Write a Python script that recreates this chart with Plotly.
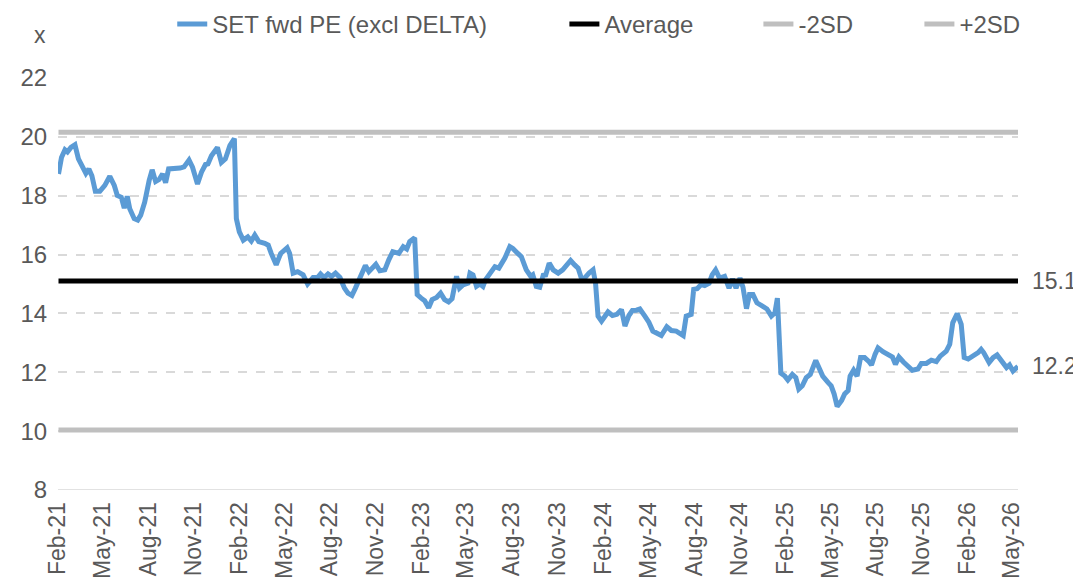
import plotly.graph_objects as go

# ---- data ----
dates = [
    "2021-02-02", "2021-02-08", "2021-02-15", "2021-02-20", "2021-02-27", "2021-03-07", "2021-03-14", "2021-03-21",
    "2021-03-29", "2021-04-04", "2021-04-10", "2021-04-17", "2021-04-26", "2021-05-06", "2021-05-16", "2021-05-25",
    "2021-05-31", "2021-06-08", "2021-06-14", "2021-06-20", "2021-06-25", "2021-07-04", "2021-07-11", "2021-07-17",
    "2021-07-25", "2021-08-03", "2021-08-09", "2021-08-16", "2021-08-23", "2021-08-30", "2021-09-05", "2021-09-11",
    "2021-09-23", "2021-10-04", "2021-10-12", "2021-10-22", "2021-10-29", "2021-11-08", "2021-11-16", "2021-11-24",
    "2021-11-29", "2021-12-06", "2021-12-18", "2021-12-26", "2022-01-03", "2022-01-12", "2022-01-21", "2022-01-25",
    "2022-01-31", "2022-02-08", "2022-02-17", "2022-02-24", "2022-03-03", "2022-03-11", "2022-03-23", "2022-03-30",
    "2022-04-05", "2022-04-15", "2022-04-24", "2022-05-07", "2022-05-12", "2022-05-19", "2022-05-28", "2022-06-08",
    "2022-06-17", "2022-06-28", "2022-07-07", "2022-07-13", "2022-07-20", "2022-07-28", "2022-08-04", "2022-08-12",
    "2022-08-21", "2022-08-30", "2022-09-06", "2022-09-14", "2022-09-21", "2022-09-30", "2022-10-11", "2022-10-18",
    "2022-10-24", "2022-11-01", "2022-11-09", "2022-11-19", "2022-11-27", "2022-12-05", "2022-12-17", "2022-12-26",
    "2023-01-02", "2023-01-08", "2023-01-18", "2023-01-23", "2023-01-31", "2023-02-07", "2023-02-15", "2023-02-22",
    "2023-03-03", "2023-03-11", "2023-03-19", "2023-03-27", "2023-04-03", "2023-04-08", "2023-04-12", "2023-04-18",
    "2023-04-25", "2023-05-05", "2023-05-09", "2023-05-15", "2023-05-22", "2023-05-29", "2023-06-04", "2023-06-09",
    "2023-06-18", "2023-06-28", "2023-07-06", "2023-07-18", "2023-07-28", "2023-08-03", "2023-08-13", "2023-08-20",
    "2023-08-30", "2023-09-08", "2023-09-12", "2023-09-19", "2023-09-26", "2023-10-03", "2023-10-08", "2023-10-15",
    "2023-10-23", "2023-11-02", "2023-11-11", "2023-11-19", "2023-11-27", "2023-12-05", "2023-12-12", "2023-12-19",
    "2023-12-25", "2024-01-03", "2024-01-11", "2024-01-16", "2024-01-21", "2024-01-28", "2024-02-03", "2024-02-10",
    "2024-02-19", "2024-02-28", "2024-03-08", "2024-03-15", "2024-03-23", "2024-03-30", "2024-04-07", "2024-04-14",
    "2024-04-24", "2024-05-02", "2024-05-10", "2024-05-18", "2024-05-27", "2024-06-07", "2024-06-16", "2024-06-26",
    "2024-07-03", "2024-07-10", "2024-07-16", "2024-07-26", "2024-07-31", "2024-08-07", "2024-08-15", "2024-08-22",
    "2024-08-31", "2024-09-06", "2024-09-13", "2024-09-21", "2024-10-01", "2024-10-10", "2024-10-17", "2024-10-24",
    "2024-11-01", "2024-11-07", "2024-11-14", "2024-11-20", "2024-11-27", "2024-12-05", "2024-12-16", "2024-12-25",
    "2025-01-03", "2025-01-10", "2025-01-15", "2025-01-22", "2025-01-30", "2025-02-05", "2025-02-14", "2025-02-21",
    "2025-02-27", "2025-03-06", "2025-03-14", "2025-03-22", "2025-04-02", "2025-04-10", "2025-04-16", "2025-04-27",
    "2025-05-03", "2025-05-09", "2025-05-15", "2025-05-24", "2025-05-30", "2025-06-06", "2025-06-10", "2025-06-17",
    "2025-06-24", "2025-07-01", "2025-07-09", "2025-07-18", "2025-07-23", "2025-07-30", "2025-08-05", "2025-08-15",
    "2025-08-25", "2025-09-03", "2025-09-09", "2025-09-16", "2025-09-25", "2025-10-04", "2025-10-13", "2025-10-24",
    "2025-10-31", "2025-11-10", "2025-11-20", "2025-11-30", "2025-12-08", "2025-12-20", "2025-12-27", "2026-01-02",
    "2026-01-11", "2026-01-19", "2026-01-25", "2026-02-02", "2026-02-12", "2026-02-22", "2026-02-28", "2026-03-05",
    "2026-03-16", "2026-03-24", "2026-04-01", "2026-04-10", "2026-04-20", "2026-04-26", "2026-05-03", "2026-05-13",
]
set_fwd_pe = [
    18.74, 19.30, 19.56, 19.49, 19.64, 19.73, 19.25, 19.02,
    18.76, 18.91, 18.68, 18.15, 18.15, 18.35, 18.66, 18.35,
    18.01, 17.95, 17.58, 17.98, 17.56, 17.22, 17.17, 17.34,
    17.78, 18.52, 18.88, 18.48, 18.55, 18.74, 18.44, 18.91,
    18.91, 18.94, 18.98, 19.21, 18.97, 18.40, 18.80, 19.06,
    19.08, 19.36, 19.64, 19.13, 19.25, 19.70, 19.94, 17.22,
    16.77, 16.49, 16.60, 16.46, 16.66, 16.44, 16.38, 16.32,
    16.04, 15.65, 16.04, 16.23, 16.04, 15.37, 15.42, 15.31,
    15.00, 15.22, 15.22, 15.34, 15.22, 15.34, 15.26, 15.37,
    15.22, 14.86, 14.69, 14.61, 14.86, 15.20, 15.63, 15.42,
    15.54, 15.67, 15.45, 15.48, 15.82, 16.10, 16.04, 16.27,
    16.19, 16.44, 16.57, 14.64, 14.52, 14.43, 14.19, 14.47,
    14.54, 14.69, 14.47, 14.39, 14.50, 14.86, 15.26, 14.86,
    14.97, 15.03, 15.37, 15.31, 14.92, 15.00, 14.92, 15.14,
    15.37, 15.59, 15.54, 15.88, 16.27, 16.21, 16.04, 15.93,
    15.48, 15.26, 15.31, 14.92, 14.89, 15.30, 15.31, 15.71,
    15.48, 15.37, 15.48, 15.65, 15.80, 15.65, 15.54, 15.17,
    15.20, 15.37, 15.48, 15.03, 13.91, 13.74, 13.91, 14.05,
    13.93, 13.97, 14.13, 13.57, 13.93, 14.10, 14.11, 14.15,
    13.91, 13.70, 13.40, 13.34, 13.25, 13.55, 13.42, 13.40,
    13.34, 13.25, 13.91, 13.97, 14.82, 14.84, 14.98, 14.95,
    15.03, 15.31, 15.48, 15.20, 15.26, 14.86, 15.17, 14.86,
    15.20, 14.89, 14.16, 14.64, 14.64, 14.36, 14.25, 14.15,
    13.91, 14.02, 14.52, 11.97, 11.87, 11.74, 11.93, 11.82,
    11.43, 11.54, 11.82, 11.93, 12.40, 12.09, 11.87, 11.65,
    11.54, 11.26, 10.84, 11.04, 11.26, 11.38, 11.87, 12.07,
    11.87, 12.50, 12.50, 12.36, 12.25, 12.61, 12.83, 12.70,
    12.59, 12.52, 12.27, 12.52, 12.35, 12.18, 12.07, 12.11,
    12.30, 12.30, 12.41, 12.36, 12.55, 12.72, 12.95, 13.68,
    13.99, 13.63, 12.50, 12.45, 12.55, 12.67, 12.78, 12.67,
    12.33, 12.50, 12.59, 12.41, 12.16, 12.25, 12.04, 12.20,
]
average = 15.1
minus_2sd = 10.04
plus_2sd = 20.16
avg_label = "15.1"
last_label = "12.2"

y_ticks = [8, 10, 12, 14, 16, 18, 20, 22]

# ---- styling ----
FONT = "Liberation Sans, Arial, sans-serif"
TXT = "#595959"
LW = 5

first, last = dates[0], dates[-1]

fig = go.Figure()
fig.add_trace(go.Scatter(x=dates, y=set_fwd_pe, mode="lines", name="SET fwd PE (excl DELTA)",
                         line=dict(color="#5B9BD5", width=LW), legend="legend"))
fig.add_trace(go.Scatter(x=[first, last], y=[average, average], mode="lines", name="Average",
                         line=dict(color="#000000", width=LW), legend="legend2"))
fig.add_trace(go.Scatter(x=[first, last], y=[minus_2sd, minus_2sd], mode="lines", name="-2SD",
                         line=dict(color="#BFBFBF", width=LW), legend="legend3"))
fig.add_trace(go.Scatter(x=[first, last], y=[plus_2sd, plus_2sd], mode="lines", name="+2SD",
                         line=dict(color="#BFBFBF", width=LW), legend="legend4"))

def leg(xpos):
    return dict(orientation="h", x=xpos, xanchor="left", y=1.13, yanchor="middle",
                font=dict(size=24, color=TXT), bgcolor="rgba(0,0,0,0)")

# The page body adds an 8px offset, so margins are shifted to compensate.
fig.update_layout(
    width=1081, height=584,
    margin=dict(l=50, r=71, t=70, b=102, autoexpand=False),
    paper_bgcolor="white", plot_bgcolor="white",
    font=dict(family=FONT, size=23, color=TXT),
    showlegend=True,
    legend=leg(0.119), legend2=leg(0.5275), legend3=leg(0.7296), legend4=leg(0.8973),
    xaxis=dict(type="date", range=["2021-02-01", last], tickmode="linear",
               tick0="2021-02-01", dtick="M3", tickformat="%b-%y", tickangle=-90,
               showgrid=False, zeroline=False, showline=False,
               ticks="outside", ticklen=2, tickcolor="rgba(0,0,0,0)",
               tickfont=dict(size=23, color=TXT), automargin=False),
    yaxis=dict(range=[8, 22], tickmode="array", tickvals=y_ticks,
               showgrid=True, gridcolor="#D9D9D9", gridwidth=1.5, griddash="dash",
               zeroline=False, showline=False,
               ticks="outside", ticklen=5, tickcolor="rgba(0,0,0,0)",
               tickfont=dict(size=24, color=TXT), automargin=False),
    annotations=[
        dict(text="x", xref="paper", yref="paper", x=-0.019, y=1.104, showarrow=False,
             xanchor="center", yanchor="middle", font=dict(size=23, color=TXT)),
        dict(text=avg_label, xref="paper", yref="y", x=1.0, y=average, xshift=12, showarrow=False,
             xanchor="left", yanchor="middle", font=dict(size=23, color=TXT)),
        dict(text=last_label, xref="paper", yref="y", x=1.0, y=set_fwd_pe[-1], xshift=12, showarrow=False,
             xanchor="left", yanchor="middle", font=dict(size=23, color=TXT)),
    ],
)
# solid baseline at 8
fig.add_shape(type="line", xref="paper", yref="y", x0=0, x1=1, y0=8, y1=8,
              line=dict(color="#D9D9D9", width=1.5), layer="below")

fig.write_html("out.html")
